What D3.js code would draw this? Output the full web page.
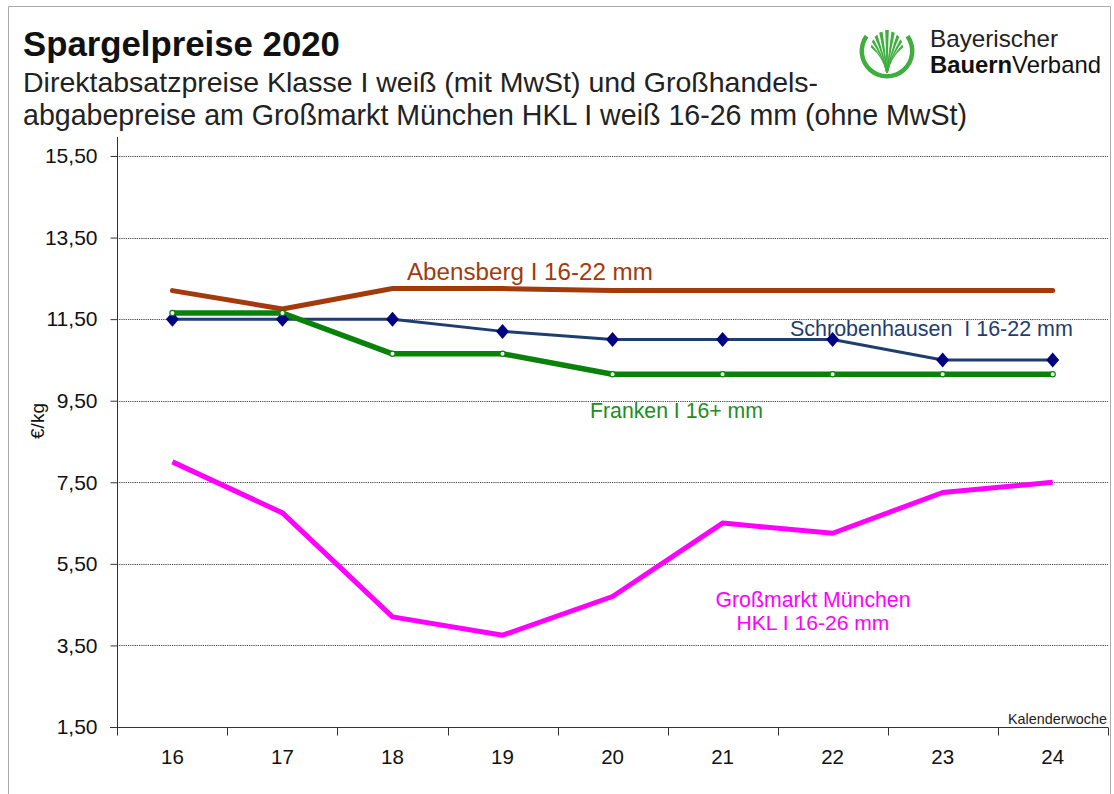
<!DOCTYPE html>
<html>
<head>
<meta charset="utf-8">
<script src="https://cdn.jsdelivr.net/npm/d3@7"></script>
<style>
  html, body { margin: 0; padding: 0; background: #fff; }
  svg { display: block; font-family: "Liberation Sans", Arial, Helvetica, sans-serif; }
</style>
</head>
<body>
<svg id="chart" width="1114" height="794"></svg>
<script>
const weeks = ["16", "17", "18", "19", "20", "21", "22", "23", "24"];
const abensberg = [12.2, 11.75, 12.25, 12.25, 12.2, 12.2, 12.2, 12.2, 12.2];
const schrobenhausen = [11.5, 11.5, 11.5, 11.2, 11.0, 11.0, 11.0, 10.5, 10.5];
const franken = [11.65, 11.65, 10.65, 10.65, 10.15, 10.15, 10.15, 10.15, 10.15];
const grossmarkt = [8.0, 6.75, 4.2, 3.75, 4.7, 6.5, 6.25, 7.25, 7.5];
const yTicks = [1.5, 3.5, 5.5, 7.5, 9.5, 11.5, 13.5, 15.5];

const title = "Spargelpreise 2020";
const subtitle1 = "Direktabsatzpreise Klasse I weiß (mit MwSt) und Großhandels-";
const subtitle2 = "abgabepreise am Großmarkt München HKL I weiß 16-26 mm (ohne MwSt)";
const yLabel = "€/kg";
const xLabel = "Kalenderwoche";
const labelAbensberg = "Abensberg I 16-22 mm";
const labelSchrob = "Schrobenhausen  I 16-22 mm";
const labelFranken = "Franken I 16+ mm";
const labelGross = ["Großmarkt München", "HKL I 16-26 mm"];

const svg = d3.select("#chart");

// scale a text element's font size so it spans the given width
function fit(sel, width) {
  const base = parseFloat(sel.attr("font-size"));
  const w = sel.node().getComputedTextLength();
  if (w > 0) sel.attr("font-size", (base * width / w).toFixed(2));
  return sel;
}

// frame
svg.append("path")
  .attr("d", "M8.5,794 L8.5,6.5 L1110.5,6.5 L1110.5,794")
  .attr("fill", "none").attr("stroke", "#aaa").attr("stroke-width", 1);

const x = d3.scaleBand().domain(weeks).range([117.4, 1107.7]);
const y = d3.scaleLinear().domain([1.5, 15.5]).range([727, 156]);
const xc = d => x(d) + x.bandwidth() / 2;

// gridlines
svg.append("g").selectAll("line")
  .data(yTicks.filter(t => t > 1.5)).join("line")
  .attr("x1", 117).attr("x2", 1108)
  .attr("y1", d => Math.round(y(d)) + 0.5).attr("y2", d => Math.round(y(d)) + 0.5)
  .attr("stroke", "#444").attr("stroke-width", 1).attr("stroke-dasharray", "1.2,1");

// y axis
const yAxis = d3.axisLeft(y).tickValues(yTicks).tickSize(7).tickPadding(13)
  .tickFormat(d => d3.format(".2f")(d).replace(".", ","));
const gy = svg.append("g").attr("transform", "translate(117.5,0)").call(yAxis);
gy.select(".domain").attr("d", "M0,137V727").attr("stroke", "#333");
gy.selectAll(".tick line").attr("stroke", "#333");
gy.selectAll("text").attr("font-size", 21).attr("fill", "#111")
  .attr("font-family", "'Liberation Sans', Arial, sans-serif");

// x axis
const xAxis = d3.axisBottom(x).tickSize(0).tickPadding(22);
const gx = svg.append("g").attr("transform", "translate(0,727.5)").call(xAxis);
gx.select(".domain").attr("d", "M110,0H1108").attr("stroke", "#333");
gx.selectAll("text").attr("font-size", 20.5).attr("fill", "#111")
  .attr("font-family", "'Liberation Sans', Arial, sans-serif");
const edges = weeks.map(w => x(w)).concat([x.range()[1]]);
gx.append("g").selectAll("line").data(edges).join("line")
  .attr("x1", d => Math.round(d) + 0.5).attr("x2", d => Math.round(d) + 0.5)
  .attr("y1", 0).attr("y2", 8).attr("stroke", "#333");

fit(svg.append("text").attr("x", 1107).attr("y", 724).attr("text-anchor", "end")
  .attr("font-size", 13).attr("fill", "#222")
  .attr("font-family", "'Liberation Sans Narrow', 'Liberation Sans', Arial, sans-serif")
  .text(xLabel), 99);

svg.append("text").attr("transform", "translate(44,421) rotate(-90)")
  .attr("text-anchor", "middle").attr("font-size", 19).attr("fill", "#111")
  .text(yLabel);

// lines
const line = d3.line().x((d, i) => xc(weeks[i])).y(d => y(d));

svg.append("path").datum(grossmarkt).attr("d", line)
  .attr("fill", "none").attr("stroke", "#FF00FF").attr("stroke-width", 5)
  .attr("stroke-linejoin", "round");

svg.append("path").datum(schrobenhausen).attr("d", line)
  .attr("fill", "none").attr("stroke", "#1F3D6E").attr("stroke-width", 3)
  .attr("stroke-linejoin", "round");

svg.append("path").datum(franken).attr("d", line)
  .attr("fill", "none").attr("stroke", "#0A820A").attr("stroke-width", 5.5)
  .attr("stroke-linejoin", "round");

svg.append("path").datum(abensberg).attr("d", line)
  .attr("fill", "none").attr("stroke", "#A33A0C").attr("stroke-width", 5)
  .attr("stroke-linejoin", "round").attr("stroke-linecap", "round");

// markers
svg.append("g").selectAll("path").data(schrobenhausen).join("path")
  .attr("transform", (d, i) => `translate(${xc(weeks[i])},${y(d)})`)
  .attr("d", "M0,-7.5L6.5,0L0,7.5L-6.5,0Z")
  .attr("fill", "#000080");

svg.append("g").selectAll("circle").data(franken).join("circle")
  .attr("cx", (d, i) => xc(weeks[i])).attr("cy", d => y(d)).attr("r", 2.6)
  .attr("fill", "#fff").attr("stroke", "#0A820A").attr("stroke-width", 1.2);

// series labels
fit(svg.append("text").attr("x", 407).attr("y", 280).attr("font-size", 20)
  .attr("fill", "#A33A0C").text(labelAbensberg), 246);
fit(svg.append("text").attr("x", 790).attr("y", 336).attr("font-size", 20)
  .attr("fill", "#1F3D6E").style("white-space", "pre").text(labelSchrob), 283);
fit(svg.append("text").attr("x", 590).attr("y", 418).attr("font-size", 20)
  .attr("fill", "#1E8C1E").text(labelFranken), 173);
const gl = svg.append("g").selectAll("text").data(labelGross).join("text")
  .attr("x", 813).attr("y", (d, i) => 607 + i * 23)
  .attr("text-anchor", "middle").attr("font-size", 20).attr("fill", "#FF00FF")
  .text(d => d);
gl.each(function(d, i) { fit(d3.select(this), i === 0 ? 195 : 153); });

// titles
fit(svg.append("text").attr("x", 23).attr("y", 56).attr("font-size", 31)
  .attr("font-weight", "bold").attr("fill", "#111").text(title), 317);
fit(svg.append("text").attr("x", 23).attr("y", 92).attr("font-size", 24.5)
  .attr("fill", "#222").text(subtitle1), 795);
fit(svg.append("text").attr("x", 23).attr("y", 125).attr("font-size", 24.5)
  .attr("fill", "#222").text(subtitle2), 944);

// logo
const green = "#3FAE3F";
const logo = svg.append("g").attr("transform", "translate(887,51)");
logo.append("path")
  .attr("d", d3.arc()({innerRadius: 23, outerRadius: 27.5, startAngle: Math.PI * 0.30, endAngle: Math.PI * 1.70}))
  .attr("fill", green);
const bladeAngles = [-72, -54, -36, -18, 0, 18, 36, 54, 72];
logo.append("g").selectAll("path").data(bladeAngles).join("path")
  .attr("d", a => {
    const r = Math.PI / 180;
    const by = 22;
    const R = 21 - Math.abs(a) * 0.06;
    const t1 = (a - 5) * r, t2 = (a + 5) * r;
    const p1 = [R * Math.sin(t1), -R * Math.cos(t1)];
    const p2 = [R * Math.sin(t2), -R * Math.cos(t2)];
    const bend = a * 0.12;
    const c1 = [p1[0] * 0.35 - bend * 0.2, 6];
    const c2 = [p2[0] * 0.35 - bend * 0.2, 6];
    return `M${-0.8},${by} Q${c1[0]},${c1[1]} ${p1[0]},${p1[1]} L${p2[0]},${p2[1]} Q${c2[0]},${c2[1]} ${0.8},${by}Z`;
  })
  .attr("fill", green);
fit(svg.append("text").attr("x", 930).attr("y", 47).attr("font-size", 22.5)
  .attr("fill", "#222").text("Bayerischer"), 128);
const t2 = svg.append("text").attr("x", 930).attr("y", 73).attr("font-size", 22.5).attr("fill", "#111");
t2.append("tspan").attr("font-weight", "bold").text("Bauern");
t2.append("tspan").text("Verband");
fit(t2, 171);
</script>
</body>
</html>
